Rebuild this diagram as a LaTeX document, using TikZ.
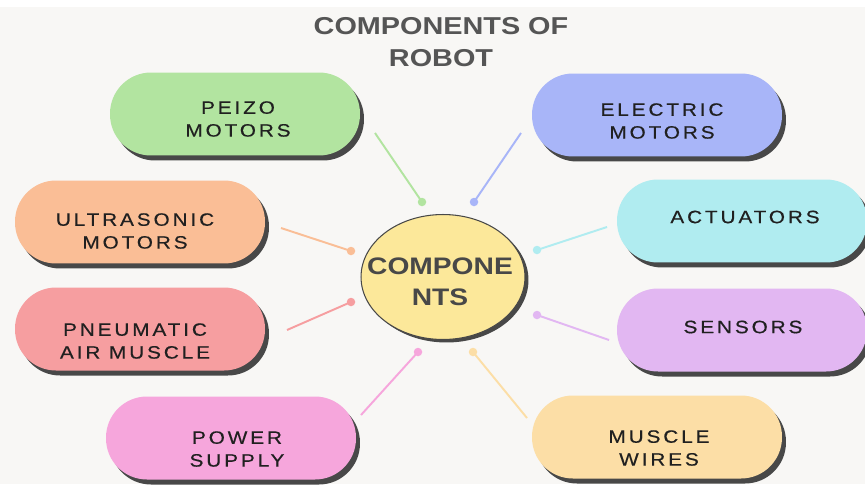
\documentclass[tikz,border=0pt]{standalone}
\usepackage{fontspec}
\setmainfont{Liberation Sans}
\newfontfamily\pillfont[LetterSpace=16,FakeStretch=1.16,FakeBold=0.4]{Liberation Sans}
\newfontfamily\headfont[FakeStretch=1.18]{Liberation Sans Bold}
\usetikzlibrary{shapes.geometric,shadows}
\definecolor{figbg}{RGB}{248,247,245}
\definecolor{figshade}{RGB}{72,72,72}
\definecolor{figtext}{RGB}{32,32,32}
\definecolor{headtext}{RGB}{85,85,85}
\definecolor{peizo}{RGB}{178,228,160}
\definecolor{electric}{RGB}{168,181,248}
\definecolor{actuator}{RGB}{176,236,240}
\definecolor{sensor}{RGB}{226,183,242}
\definecolor{wire}{RGB}{252,222,166}
\definecolor{power}{RGB}{246,166,220}
\definecolor{pneumatic}{RGB}{246,158,160}
\definecolor{ultra}{RGB}{250,190,150}
\definecolor{core}{RGB}{252,232,154}
\tikzset{
  pill/.style ={rounded corners=0.82cm, minimum width=5cm, minimum height=1.66cm, inner sep=0pt,
                drop shadow={shadow xshift=0.08cm, shadow yshift=-0.1cm, fill=figshade, opacity=1}},
  plab/.style ={font=\pillfont\fontsize{10.2}{13}\selectfont, text=figtext, align=center, inner sep=1pt},
  head/.style ={font=\headfont\fontsize{13.9}{18}\selectfont, text=headtext, align=center, inner sep=1pt},
  link/.style ={line width=1.1pt},
  dot/.style  ={circle, inner sep=0pt, minimum size=0.17cm},
}

\begin{document}
\begin{tikzpicture}[x=0.02cm,y=-0.02cm]
  \useasboundingbox (0,0) rectangle (865,484);
  \fill[white] (0,0) rectangle (865,7);
  \fill[figbg] (0,7) rectangle (865,484);
  \node[head] (title) at (441,42) {COMPONENTS OF\\ROBOT};
  % centre
  \node[ellipse, draw=figshade, line width=0.6pt, fill=core, minimum width=3.28cm, minimum height=2.5cm,
        drop shadow={shadow xshift=0.07cm, shadow yshift=-0.06cm, fill=figshade, opacity=1}] (core) at (443,277) {};
  \node[font=\headfont\fontsize{13.6}{17.6}\selectfont, text=headtext!85!black, align=center, inner sep=1pt] (core-t) at (440,282) {COMPONE\\NTS};
  % left pills
  \node[pill, fill=peizo] (peizo) at (235,114) {};
  \node[plab] (peizo-t) at (238,119) {PEIZO\\MOTORS};
  \node[pill, fill=ultra] (ultra) at (140,222) {};
  \node[plab] (ultra-t) at (135,231) {ULTRASONIC\\MOTORS};
  \node[pill, fill=pneumatic] (pneu) at (140,329) {};
  \node[plab] (pneu-t) at (135,341) {PNEUMATIC\\AIR MUSCLE};
  \node[pill, fill=power] (power) at (231,438) {};
  \node[plab] (power-t) at (237,449) {POWER\\SUPPLY};
  % right pills
  \node[pill, fill=electric] (electric) at (657,115) {};
  \node[plab] (electric-t) at (662,121) {ELECTRIC\\MOTORS};
  \node[pill, fill=actuator] (actu) at (742,221) {};
  \node[plab] (actu-t) at (745,217) {ACTUATORS};
  \node[pill, fill=sensor] (sens) at (742,330) {};
  \node[plab] (sens-t) at (743,327) {SENSORS};
  \node[pill, fill=wire] (wire) at (657,437) {};
  \node[plab] (wire-t) at (659,448) {MUSCLE\\WIRES};
  % connectors
  \coordinate (peizo-a) at (375,133);
  \coordinate (electric-a) at (521,133);
  \coordinate (ultra-a) at (281,228);
  \coordinate (pneu-a) at (287,330);
  \coordinate (power-a) at (361,415);
  \coordinate (actu-a) at (607,227);
  \coordinate (sens-a) at (609,340);
  \coordinate (wire-a) at (527,418);
  \node[dot, fill=peizo] (peizo-d) at (422,202) {};
  \node[dot, fill=electric] (electric-d) at (474,202) {};
  \node[dot, fill=ultra] (ultra-d) at (351,251) {};
  \node[dot, fill=pneumatic] (pneu-d) at (351,302) {};
  \node[dot, fill=power] (power-d) at (418,352) {};
  \node[dot, fill=actuator] (actu-d) at (537,250) {};
  \node[dot, fill=sensor] (sens-d) at (537,315) {};
  \node[dot, fill=wire] (wire-d) at (473,352) {};
  \draw[link, peizo] (peizo-a) -- (peizo-d.center);
  \draw[link, electric] (electric-a) -- (electric-d.center);
  \draw[link, ultra] (ultra-a) -- (ultra-d.center);
  \draw[link, pneumatic] (pneu-a) -- (pneu-d.center);
  \draw[link, power] (power-a) -- (power-d.center);
  \draw[link, actuator] (actu-a) -- (actu-d.center);
  \draw[link, sensor] (sens-a) -- (sens-d.center);
  \draw[link, wire] (wire-a) -- (wire-d.center);
\end{tikzpicture}
\end{document}
